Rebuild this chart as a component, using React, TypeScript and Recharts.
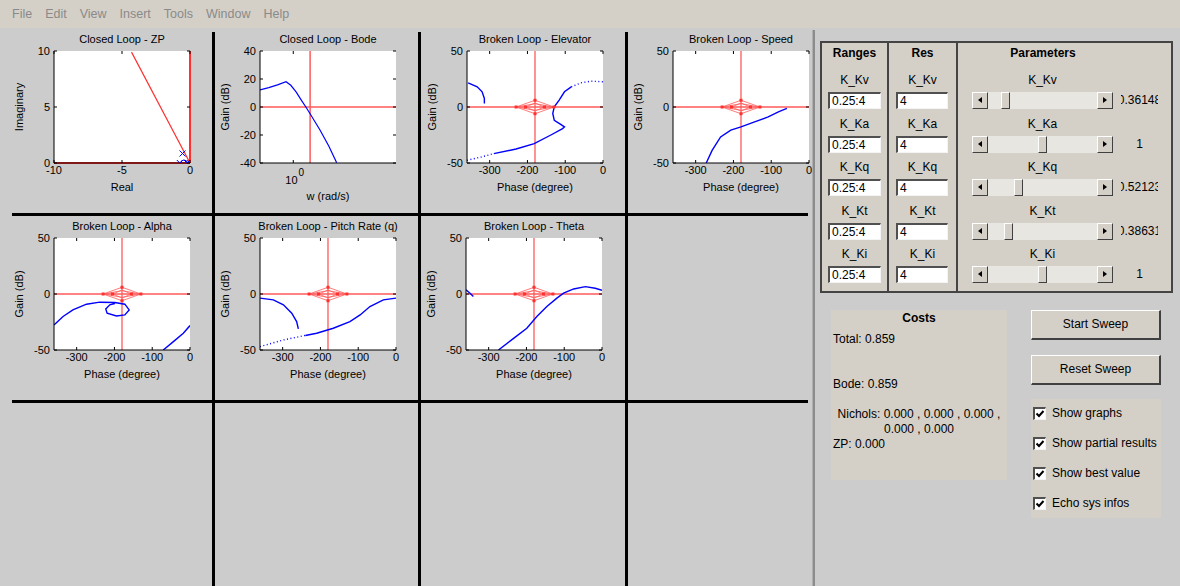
import React from 'react';
import { ComposedChart, Line, Scatter, XAxis, YAxis, ReferenceLine, CartesianGrid, Label } from 'recharts';

type Pt = { x: number; y: number };

const menuItems = ['File', 'Edit', 'View', 'Insert', 'Tools', 'Window', 'Help'];

// Closed loop - ZP
const zpLocus: Pt[] = [{ x: -4.3, y: 9.9 }, { x: 0, y: 0 }];
const zpPoles: Pt[] = [{ x: -0.55, y: 0.85 }, { x: -0.75, y: 0 }, { x: -0.22, y: 0 }, { x: -0.02, y: 0 }];
const zpZeros: Pt[] = [{ x: -0.45, y: 0 }];

// Closed loop - Bode
const bodeGain: Pt[] = [
  { x: 0.5, y: 12.2 }, { x: 0.6, y: 13.8 }, { x: 0.72, y: 15.8 }, { x: 0.86, y: 18.1 },
  { x: 0.95, y: 15.5 }, { x: 1.06, y: 10.8 }, { x: 1.19, y: 4.6 }, { x: 1.3, y: 0 },
  { x: 1.42, y: -4.8 }, { x: 1.75, y: -16.6 }, { x: 2.1, y: -28 }, { x: 2.47, y: -39.8 },
];
const bodeCross = 1.42;
const bodeTicks = [1];
const bodeTickExp = ['0'];

// Nichols margin diamonds (phase, gain)
const diamondOuter: Pt[] = [{ x: -230, y: 0 }, { x: -180, y: 6 }, { x: -130, y: 0 }, { x: -180, y: -6 }, { x: -230, y: 0 }];
const diamondMid: Pt[] = [{ x: -230, y: 0 }, { x: -180, y: 3 }, { x: -130, y: 0 }, { x: -180, y: -3 }, { x: -230, y: 0 }];
const diamondInner: Pt[] = [{ x: -205, y: 0 }, { x: -180, y: 3.5 }, { x: -155, y: 0 }, { x: -180, y: -3.5 }, { x: -205, y: 0 }];
const diamondDots: Pt[] = [{ x: -230, y: 0 }, { x: -205, y: 0 }, { x: -155, y: 0 }, { x: -130, y: 0 }, { x: -180, y: 6 }, { x: -180, y: -6 }];

// Broken loop - Elevator
const elevatorUpper: Pt[] = [{ x: -357, y: 21.6 }, { x: -333, y: 18 }, { x: -320, y: 13.6 }, { x: -314, y: 7.6 }, { x: -314, y: 3.1 }];
const elevatorLow: Pt[] = [{ x: -360, y: -47.6 }, { x: -322, y: -44.6 }, { x: -289, y: -41.6 }];
const elevatorMain: Pt[] = [
  { x: -289, y: -41.6 }, { x: -230, y: -37.5 }, { x: -182, y: -32.7 }, { x: -138, y: -25 },
  { x: -107, y: -19.3 }, { x: -102, y: -17.8 }, { x: -112, y: -15.5 }, { x: -129, y: -11.8 },
  { x: -133, y: -5.8 }, { x: -129, y: 0.1 }, { x: -116, y: 6.1 }, { x: -102, y: 13.6 }, { x: -84, y: 18 },
];
const elevatorTail: Pt[] = [{ x: -84, y: 18 }, { x: -58, y: 21.6 }, { x: -31, y: 23.1 }, { x: 0, y: 22.5 }];

// Broken loop - Speed
const speedCurve: Pt[] = [
  { x: -272, y: -50 }, { x: -256.5, y: -38.7 }, { x: -234, y: -26.7 }, { x: -207, y: -20.7 },
  { x: -180, y: -17.8 }, { x: -144, y: -13.3 }, { x: -108, y: -8.8 }, { x: -81, y: -4.3 }, { x: -58.5, y: -1.3 },
];

// Broken loop - Alpha
const alphaLoop: Pt[] = [
  { x: -360, y: -27.6 }, { x: -336, y: -20.1 }, { x: -310, y: -14.2 }, { x: -274, y: -9.1 },
  { x: -239, y: -7.3 }, { x: -199, y: -7.6 }, { x: -172.5, y: -9.1 }, { x: -161, y: -14.2 },
  { x: -172.5, y: -18.7 }, { x: -194.6, y: -19.6 }, { x: -219.4, y: -17.2 }, { x: -223, y: -13.3 },
  { x: -212.3, y: -9.7 }, { x: -199, y: -8.5 },
];
const alphaTail: Pt[] = [{ x: -70.8, y: -50 }, { x: -44, y: -42.5 }, { x: -17.7, y: -35 }, { x: 0, y: -28.2 }];

// Broken loop - Pitch rate
const pitchUpper: Pt[] = [
  { x: -360, y: -3.7 }, { x: -324.7, y: -5.2 }, { x: -298, y: -9.7 }, { x: -276, y: -17.2 },
  { x: -263, y: -24.6 }, { x: -258.5, y: -31.2 },
];
const pitchLowerStart: Pt[] = [{ x: -360, y: -47 }, { x: -298, y: -41 }, { x: -240, y: -37 }];
const pitchLower: Pt[] = [
  { x: -240, y: -37 }, { x: -210, y: -35 }, { x: -166, y: -30.6 },
  { x: -122, y: -24.6 }, { x: -95, y: -18.7 }, { x: -69, y: -11.2 }, { x: -33.5, y: -5.2 }, { x: 0, y: -3.7 },
];

// Broken loop - Theta
const thetaStub: Pt[] = [{ x: -360, y: 3.7 }, { x: -349.4, y: 0.7 }, { x: -340.5, y: -2.2 }];
const thetaCurve: Pt[] = [
  { x: -274, y: -50 }, { x: -234, y: -39.6 }, { x: -199, y: -30.6 }, { x: -172.5, y: -20.1 },
  { x: -146, y: -11.2 }, { x: -119.4, y: -3.7 }, { x: -101.7, y: 0.7 }, { x: -75, y: 4.5 },
  { x: -44, y: 6.6 }, { x: -18, y: 5.1 }, { x: 0, y: 3.3 },
];

const phaseTicks = [-300, -200, -100, 0];
const gainTicks = [-50, 0, 50];

// Parameter panel
const paramNames = ['K_Kv', 'K_Ka', 'K_Kq', 'K_Kt', 'K_Ki'];
const paramRanges = ['0.25:4', '0.25:4', '0.25:4', '0.25:4', '0.25:4'];
const paramRes = ['4', '4', '4', '4', '4'];
const paramValues = [0.36148, 1, 0.52123, 0.38631, 1];
const rangeMin = 0.25;
const rangeMax = 4;

// Costs
const costTotal = 0.859;
const costBode = 0.859;
const costNichols = [0, 0, 0, 0, 0];
const costZP = 0;

const checkOptions = ['Show graphs', 'Show partial results', 'Show best value', 'Echo sys infos'];

const FONT = "'Liberation Sans', Arial, Helvetica, sans-serif";
const BLUE = '#0000ff';
const RED = '#ff3030';
const RED_LIGHT = '#ff5a5a';

// chart geometry
const PW = 136;
const PH = 112;
const M = { top: 28, right: 12, bottom: 30, left: 22 };
const YW = 28;
const XH = 20;
const CW = M.left + YW + PW + M.right;
const CH = M.top + PH + XH + M.bottom;

const xTick = (sup?: boolean) => (p: any) => {
  const { x, y, payload, index } = p;
  const ay = y - 3;
  return (
    <g>
      <line x1={x} x2={x} y1={ay} y2={ay - 3} stroke="#000" />
      <line x1={x} x2={x} y1={ay - PH} y2={ay - PH + 3} stroke="#000" />
      {sup ? (
        <text x={x - 8} y={y + 18} fontSize={11} fill="#000" fontFamily={FONT}>
          10<tspan dx={1} dy={-8} fontSize={10}>{bodeTickExp[index] ?? '0'}</tspan>
        </text>
      ) : (
        <text x={x} y={y} dy="0.71em" textAnchor="middle" fontSize={11} fill="#000" fontFamily={FONT}>{payload.value}</text>
      )}
    </g>
  );
};

const yTick = (p: any) => {
  const { x, y, payload } = p;
  const ax = x + 4;
  return (
    <g>
      <line x1={ax} x2={ax + 3} y1={y} y2={y} stroke="#000" />
      <line x1={ax + PW} x2={ax + PW - 3} y1={y} y2={y} stroke="#000" />
      <text x={x} y={y} dy="0.355em" textAnchor="end" fontSize={11} fill="#000" fontFamily={FONT}>{payload.value}</text>
    </g>
  );
};

interface PlotProps {
  left: number;
  top: number;
  title: string;
  xDomain: [number, number];
  yDomain: [number, number];
  xTicks: number[];
  yTicks: number[];
  xLabel: string;
  yLabel: string;
  logX?: boolean;
  xLabelDy?: number;
  children: React.ReactNode;
}

const Plot: React.FC<PlotProps> = ({ left, top, title, xDomain, yDomain, xTicks, yTicks, xLabel, yLabel, logX, xLabelDy = 24, children }) => (
  <div style={{ position: 'absolute', left, top, width: CW, height: CH }}>
    <div style={{ position: 'absolute', left: M.left + YW - 20, top: M.top - 18, width: PW + 40, textAlign: 'center', fontSize: 11, lineHeight: '13px', whiteSpace: 'nowrap', fontFamily: FONT }}>{title}</div>
    <ComposedChart width={CW} height={CH} margin={M}>
      <CartesianGrid fill="#ffffff" horizontal={false} vertical={false} />
      <XAxis dataKey="x" type="number" scale={logX ? 'log' : 'linear'} domain={xDomain} ticks={xTicks} interval={0} allowDataOverflow
        height={XH} tickSize={0} tickMargin={3} tickLine={false} axisLine={{ stroke: '#000' }} tick={xTick(logX)}>
        <Label content={(p: any) => {
          const vb = p.viewBox || { x: 0, y: 0, width: 0 };
          return <text x={vb.x + vb.width / 2} y={vb.y + xLabelDy} dy="0.35em" textAnchor="middle" fontSize={11} fontFamily={FONT} fill="#000">{xLabel}</text>;
        }} />
      </XAxis>
      <XAxis xAxisId="top" orientation="top" type="number" scale={logX ? 'log' : 'linear'} domain={xDomain} allowDataOverflow
        height={0} tick={false} tickLine={false} axisLine={{ stroke: '#000' }} />
      <YAxis dataKey="y" type="number" domain={yDomain} ticks={yTicks} interval={0} allowDataOverflow
        width={YW} tickSize={0} tickMargin={4} tickLine={false} axisLine={{ stroke: '#000' }} tick={yTick}>
        <Label content={(p: any) => {
          const vb = p.viewBox || { x: 0, y: 0, height: 0 };
          const cx = vb.x - 7;
          const cy = vb.y + vb.height / 2;
          return <text x={cx} y={cy} dy="0.35em" textAnchor="middle" fontSize={11} fontFamily={FONT} fill="#000" transform={`rotate(-90 ${cx} ${cy})`}>{yLabel}</text>;
        }} />
      </YAxis>
      <YAxis yAxisId="right" orientation="right" type="number" domain={yDomain} allowDataOverflow
        width={0} tick={false} tickLine={false} axisLine={{ stroke: '#000' }} />
      {children}
    </ComposedChart>
  </div>
);

const curve = (key: string, data: Pt[], color: string, dotted?: boolean, width = 1.4) => (
  <Line key={key} data={data} dataKey="y" type="linear" stroke={color} strokeWidth={width} dot={false}
    strokeDasharray={dotted ? '1 2.5' : undefined} isAnimationActive={false} />
);

const nicholsMarks = () => [
  <ReferenceLine key="rv" x={-180} stroke={RED_LIGHT} strokeWidth={1.3} />,
  <ReferenceLine key="rh" y={0} stroke={RED_LIGHT} strokeWidth={1.3} />,
  curve('d1', diamondOuter, RED_LIGHT, false, 0.8),
  curve('d2', diamondMid, RED_LIGHT, false, 0.8),
  curve('d3', diamondInner, RED_LIGHT, false, 0.8),
  <Scatter key="dd" data={diamondDots} isAnimationActive={false}
    shape={(p: any) => <rect x={p.cx - 1.5} y={p.cy - 1.5} width={3} height={3} fill={RED} />} />,
];

const nicholsProps = {
  xDomain: [-360, 0] as [number, number],
  yDomain: [-50, 50] as [number, number],
  xTicks: phaseTicks,
  yTicks: gainTicks,
  xLabel: 'Phase (degree)',
  yLabel: 'Gain (dB)',
};

const ArrowBtn: React.FC<{ left: number; dir: 'l' | 'r' }> = ({ left, dir }) => (
  <div style={{ position: 'absolute', left, top: 0, width: 16, height: 17, boxSizing: 'border-box', background: '#d4d0c8',
    borderTop: '1px solid #fff', borderLeft: '1px solid #fff', borderRight: '1px solid #404040', borderBottom: '1px solid #404040' }}>
    <div style={{ position: 'absolute', left: 5, top: 4, width: 0, height: 0, borderTop: '3.5px solid transparent', borderBottom: '3.5px solid transparent',
      ...(dir === 'l' ? { borderRight: '4px solid #000' } : { borderLeft: '4px solid #000' }) }} />
  </div>
);

const Slider: React.FC<{ left: number; top: number; value: number }> = ({ left, top, value }) => {
  const W = 141;
  const frac = Math.log(value / rangeMin) / Math.log(rangeMax / rangeMin);
  const travel = W - 32 - 9;
  return (
    <div style={{ position: 'absolute', left, top, width: W, height: 17, background: '#e8e6e1' }}>
      <ArrowBtn left={0} dir="l" />
      <ArrowBtn left={W - 16} dir="r" />
      <div style={{ position: 'absolute', left: 16 + frac * travel, top: 0, width: 9, height: 17, boxSizing: 'border-box', background: '#d4d0c8',
        borderTop: '1px solid #fff', borderLeft: '1px solid #fff', borderRight: '1px solid #404040', borderBottom: '1px solid #404040' }} />
    </div>
  );
};

const EditBox: React.FC<{ left: number; top: number; width: number; text: string }> = ({ left, top, width, text }) => (
  <div style={{ position: 'absolute', left, top, width, height: 17, boxSizing: 'border-box', background: '#fff',
    borderTop: '2px solid #505050', borderLeft: '2px solid #505050', borderRight: '1px solid #f4f4f4', borderBottom: '1px solid #f4f4f4',
    fontSize: 12, lineHeight: '15px', paddingLeft: 2, overflow: 'hidden', whiteSpace: 'nowrap' }}>{text}</div>
);

const Button: React.FC<{ top: number; text: string }> = ({ top, text }) => (
  <div style={{ position: 'absolute', left: 1031, top, width: 130, height: 30, boxSizing: 'border-box', background: '#d4d0c8',
    borderTop: '1px solid #fff', borderLeft: '1px solid #fff', borderRight: '2px solid #404040', borderBottom: '2px solid #404040',
    fontSize: 12, lineHeight: '27px', textAlign: 'center' }}>{text}</div>
);

const abs = (left: number, top: number, extra: React.CSSProperties = {}): React.CSSProperties => ({ position: 'absolute', left, top, whiteSpace: 'nowrap', ...extra });

export default function App() {
  const rowY = (i: number) => 81 + i * 43.6;
  return (
    <div style={{ position: 'fixed', left: 0, top: 0, width: 1180, height: 586, overflow: 'hidden', background: '#cccccc', fontFamily: FONT, color: '#000' }}>
      {/* menu bar */}
      <div style={{ position: 'absolute', left: 0, top: 0, width: 1180, height: 28, background: '#d4d0c8', display: 'flex', gap: 13, paddingLeft: 12, boxSizing: 'border-box', alignItems: 'center', fontSize: 12.5, color: '#8a8a8a' }}>
        {menuItems.map((m) => <span key={m}>{m}</span>)}
      </div>

      {/* grid separators */}
      {[212, 418, 625].map((x) => <div key={x} style={{ position: 'absolute', left: x, top: 32, width: 3, height: 554, background: '#000' }} />)}
      {[213, 400].map((y) => <div key={y} style={{ position: 'absolute', left: 12, top: y, width: 796, height: 2.5, background: '#000' }} />)}
      <div style={{ position: 'absolute', left: 812, top: 30, width: 3, height: 556, background: '#8c8c8c', borderLeft: '1px solid #b0b0b0', boxSizing: 'border-box' }} />

      {/* row 1 */}
      <Plot left={4} top={23} title="Closed Loop - ZP" xDomain={[-10, 0]} yDomain={[0, 10]} xTicks={[-10, -5, 0]} yTicks={[0, 5, 10]} xLabel="Real" yLabel="Imaginary">
        {[
          <ReferenceLine key="zy" y={0} stroke={RED} strokeWidth={2} />,
          <ReferenceLine key="zx" x={0} stroke={RED} strokeWidth={2} />,
          curve('zl', zpLocus, RED, false, 1.2),
          <Scatter key="zp" data={zpPoles} isAnimationActive={false}
            shape={(p: any) => <path d={`M${p.cx - 3},${p.cy - 3}L${p.cx + 3},${p.cy + 3}M${p.cx - 3},${p.cy + 3}L${p.cx + 3},${p.cy - 3}`} stroke={BLUE} strokeWidth={1} />} />,
          <Scatter key="zz" data={zpZeros} isAnimationActive={false}
            shape={(p: any) => <circle cx={p.cx} cy={p.cy} r={3} fill="none" stroke={BLUE} strokeWidth={1} />} />,
        ]}
      </Plot>
      <Plot left={210} top={23} title="Closed Loop - Bode" xDomain={[0.5, 8.5]} yDomain={[-40, 40]} xTicks={bodeTicks} yTicks={[-40, -20, 0, 20, 40]}
        xLabel="w (rad/s)" yLabel="Gain (dB)" logX xLabelDy={33}>
        {[
          <ReferenceLine key="bv" x={bodeCross} stroke={RED_LIGHT} strokeWidth={1.5} />,
          <ReferenceLine key="bh" y={0} stroke={RED_LIGHT} strokeWidth={1.5} />,
          curve('bg', bodeGain, BLUE, false, 1.2),
        ]}
      </Plot>
      <Plot left={417} top={23} title="Broken Loop - Elevator" {...nicholsProps}>
        {[
          ...nicholsMarks(),
          curve('e1', elevatorUpper, BLUE),
          curve('e2', elevatorLow, BLUE, true),
          curve('e3', elevatorMain, BLUE),
          curve('e4', elevatorTail, BLUE, true),
        ]}
      </Plot>
      <Plot left={623} top={23} title="Broken Loop - Speed" {...nicholsProps}>
        {[...nicholsMarks(), curve('s1', speedCurve, BLUE)]}
      </Plot>

      {/* row 2 */}
      <Plot left={4} top={210} title="Broken Loop - Alpha" {...nicholsProps}>
        {[...nicholsMarks(), curve('a1', alphaLoop, BLUE), curve('a2', alphaTail, BLUE)]}
      </Plot>
      <Plot left={210} top={210} title="Broken Loop - Pitch Rate (q)" {...nicholsProps}>
        {[...nicholsMarks(), curve('p1', pitchUpper, BLUE), curve('p2', pitchLowerStart, BLUE, true), curve('p3', pitchLower, BLUE)]}
      </Plot>
      <Plot left={416} top={210} title="Broken Loop - Theta" {...nicholsProps}>
        {[...nicholsMarks(), curve('t1', thetaStub, BLUE), curve('t2', thetaCurve, BLUE)]}
      </Plot>

      {/* parameter panel */}
      <div style={{ position: 'absolute', left: 820, top: 41, width: 353, height: 252, boxSizing: 'border-box', background: '#d4d0c8', border: '2px solid #444' }} />
      <div style={{ position: 'absolute', left: 887, top: 41, width: 2, height: 252, background: '#444' }} />
      <div style={{ position: 'absolute', left: 956, top: 41, width: 2, height: 252, background: '#444' }} />
      <div style={abs(822, 46, { width: 65, textAlign: 'center', fontWeight: 'bold', fontSize: 12 })}>Ranges</div>
      <div style={abs(889, 46, { width: 67, textAlign: 'center', fontWeight: 'bold', fontSize: 12 })}>Res</div>
      <div style={abs(958, 46, { width: 170, textAlign: 'center', fontWeight: 'bold', fontSize: 12 })}>Parameters</div>
      {paramNames.map((n, i) => (
        <React.Fragment key={n}>
          <div style={abs(822, rowY(i) - 8, { width: 65, textAlign: 'center', fontSize: 12 })}>{n}</div>
          <div style={abs(889, rowY(i) - 8, { width: 67, textAlign: 'center', fontSize: 12 })}>{n}</div>
          <div style={abs(972, rowY(i) - 8, { width: 141, textAlign: 'center', fontSize: 12 })}>{n}</div>
          <EditBox left={828} top={rowY(i) + 11} width={53} text={paramRanges[i]} />
          <EditBox left={896} top={rowY(i) + 11} width={52} text={paramRes[i]} />
          <Slider left={972} top={rowY(i) + 11} value={paramValues[i]} />
          <div style={{ position: 'absolute', left: 1121, top: rowY(i) + 11, width: 37, height: 17, overflow: 'hidden', display: 'flex', justifyContent: 'center', fontSize: 12, lineHeight: '17px', whiteSpace: 'nowrap' }}>
            <span style={{ flexShrink: 0 }}>{String(paramValues[i])}</span>
          </div>
        </React.Fragment>
      ))}

      {/* costs */}
      <div style={{ position: 'absolute', left: 831, top: 310, width: 176, height: 170, background: '#d4d0c8' }} />
      <div style={abs(831, 311, { width: 176, textAlign: 'center', fontWeight: 'bold', fontSize: 12 })}>Costs</div>
      <div style={abs(833, 332, { fontSize: 12 })}>Total: {costTotal.toFixed(3)}</div>
      <div style={abs(833, 377, { fontSize: 12 })}>Bode: {costBode.toFixed(3)}</div>
      <div style={abs(831, 407, { width: 176, textAlign: 'center', fontSize: 12, lineHeight: '15px' })}>
        Nichols: {costNichols.slice(0, 3).map((c) => c.toFixed(3)).join(' , ')} ,<br />
        {costNichols.slice(3).map((c) => c.toFixed(3)).join(' , ')}
      </div>
      <div style={abs(833, 437, { fontSize: 12 })}>ZP: {costZP.toFixed(3)}</div>

      {/* buttons */}
      <Button top={310} text="Start Sweep" />
      <Button top={355} text="Reset Sweep" />

      {/* options */}
      <div style={{ position: 'absolute', left: 1031, top: 399, width: 130, height: 119, background: '#d4d0c8' }} />
      {checkOptions.map((o, i) => (
        <React.Fragment key={o}>
          <div style={{ position: 'absolute', left: 1033, top: 407 + i * 30, width: 13, height: 13, boxSizing: 'border-box', background: '#fff',
            borderTop: '2px solid #505050', borderLeft: '2px solid #505050', borderRight: '1px solid #f4f4f4', borderBottom: '1px solid #f4f4f4' }}>
            <svg width={10} height={10} style={{ position: 'absolute', left: 0, top: 0 }}>
              <path d="M1.5,4.5 L4,7 L8.5,2" fill="none" stroke="#000" strokeWidth={2} />
            </svg>
          </div>
          <div style={abs(1052, 406 + i * 30, { fontSize: 12 })}>{o}</div>
        </React.Fragment>
      ))}
    </div>
  );
}
